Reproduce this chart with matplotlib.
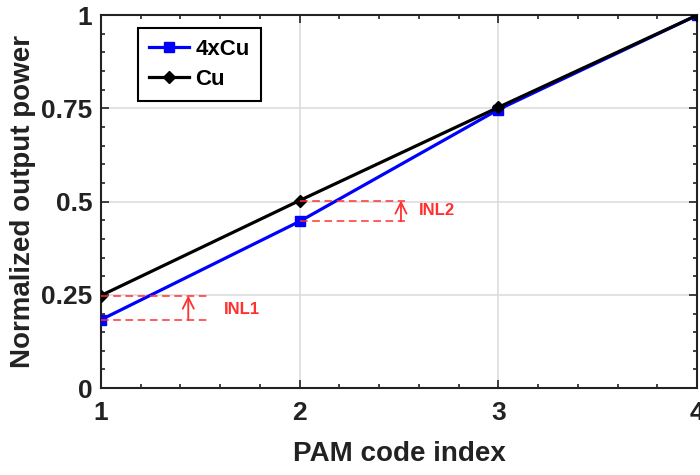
import matplotlib
matplotlib.use('Agg')
import matplotlib.pyplot as plt
from matplotlib.ticker import MultipleLocator

# data
code_index = [1, 2, 3, 4]
cu4x = [0.183, 0.447, 0.747, 1.0]
cu = [0.248, 0.503, 0.753, 1.0]

inl1_x = [1, 1.55]
inl2_x = [2, 2.53]

plt.rcParams['font.family'] = ['Liberation Sans', 'DejaVu Sans']
plt.rcParams['font.weight'] = 'bold'

fig = plt.figure(figsize=(7, 4.75), dpi=100)
ax = fig.add_axes([0.144, 0.183, 0.852, 0.785])

ax.plot(code_index, cu4x, color='#0000ff', lw=2.3, marker='s', ms=7, label='4xCu', zorder=3)
ax.plot(code_index, cu, color='black', lw=2.3, marker='D', ms=6, label='Cu', zorder=4)

# INL markers
red = '#ff3030'
for xs, lo, hi, ax_x, txt, ty in [(inl1_x, cu4x[0], cu[0], 1.44, 'INL1', 0.21),
                                  (inl2_x, cu4x[1], cu[1], 2.51, 'INL2', 0.475)]:
    ax.plot(xs, [lo, lo], ls='--', color=red, lw=1.1, dashes=(5, 3), zorder=5)
    ax.plot(xs, [hi, hi], ls='--', color=red, lw=1.1, dashes=(5, 3), zorder=5)
    ax.annotate('', xy=(ax_x, hi), xytext=(ax_x, lo),
                arrowprops=dict(arrowstyle='->', color=red, lw=1.3, mutation_scale=20,
                                shrinkA=0, shrinkB=0))
    ax.text(xs[1] + 0.07, ty, txt, color=red, fontsize=12, fontweight='bold',
            va='center', ha='left')

ax.set_xlim(1, 4)
ax.set_ylim(0, 1)
ax.set_xticks([1, 2, 3, 4])
ax.set_yticks([0, 0.25, 0.5, 0.75, 1])
ax.set_yticklabels(['0', '0.25', '0.5', '0.75', '1'])
ax.xaxis.set_minor_locator(MultipleLocator(0.2))
ax.yaxis.set_minor_locator(MultipleLocator(0.05))
ax.tick_params(which='both', direction='in', top=True, right=True, labelsize=19,
               width=1.2, colors='#222222')
ax.tick_params(axis='x', which='major', pad=9)
ax.tick_params(axis='y', which='major', pad=6)
ax.tick_params(which='major', length=6)
ax.tick_params(which='minor', length=3)
ax.grid(True, which='major', color='#dddddd', lw=1.2)
ax.set_axisbelow(True)
for s in ax.spines.values():
    s.set_linewidth(1.5)
    s.set_color('#222222')

ax.set_xlabel('PAM code index', fontsize=20, fontweight='bold', labelpad=12, color='#222222')
ax.set_ylabel('Normalized output power', fontsize=20, fontweight='bold', labelpad=4,
              color='#222222')

leg = ax.legend(loc='upper left', bbox_to_anchor=(0.062, 0.967), fontsize=16,
                fancybox=False, framealpha=1, edgecolor='black',
                handlelength=1.8, borderpad=0.5, labelspacing=0.4, handletextpad=0.3,
                borderaxespad=0)
leg.get_frame().set_linewidth(1.5)

fig.savefig('out.png', dpi=100)
